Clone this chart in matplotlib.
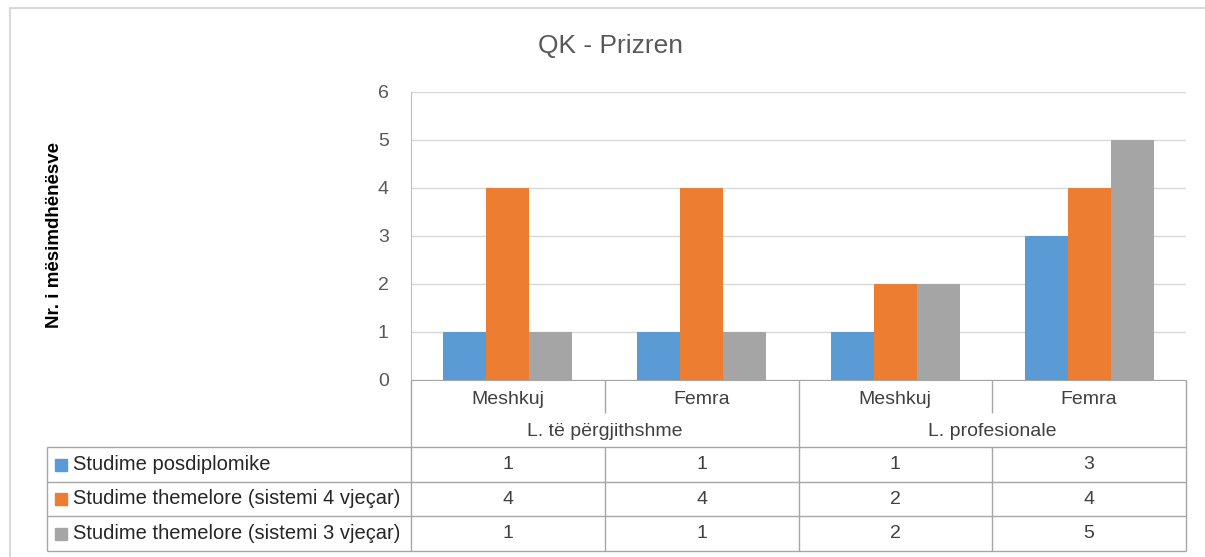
import matplotlib as mpl
mpl.use('Agg')
import matplotlib.pyplot as plt
from matplotlib.patches import Rectangle

plt.rcParams['font.family'] = ['Liberation Sans', 'DejaVu Sans']

# ---- data ----
title = "QK - Prizren"
ylabel = "Nr. i mësimdhënësve"
genders = ["Meshkuj", "Femra", "Meshkuj", "Femra"]
groups = ["L. të përgjithshme", "L. profesionale"]
series_names = [
    "Studime posdiplomike",
    "Studime themelore (sistemi 4 vjeçar)",
    "Studime themelore (sistemi 3 vjeçar)",
]
posdiplomike = [1, 1, 1, 3]
themelore_4 = [4, 4, 2, 4]
themelore_3 = [1, 1, 2, 5]
colors = ["#5B9BD5", "#ED7D31", "#A5A5A5"]

W, H = 1205, 557
fig = plt.figure(figsize=(W / 100, H / 100), dpi=100)

# outer chart border
fig.patches.append(Rectangle((10 / W, -0.1), 1.2, 1 - 8 / H + 0.1,
                             transform=fig.transFigure, fill=False,
                             edgecolor="#D9D9D9", lw=1.5))

# ---- bar plot ----
ax = fig.add_axes([411 / W, (H - 380) / H, 775 / W, 288 / H])
x = list(range(len(genders)))
bw = 0.222
all_series = [posdiplomike, themelore_4, themelore_3]
for i, vals in enumerate(all_series):
    ax.bar([xi + (i - 1) * bw for xi in x], vals, width=bw, color=colors[i],
           label=series_names[i], zorder=3)

ax.set_xlim(-0.5, 3.5)
ax.set_ylim(0, 6)
ax.set_yticks(range(0, 7))
ax.set_xticks([])
ax.tick_params(axis='y', length=0, pad=16, labelsize=14, labelcolor="#595959")
ax.grid(axis='y', color="#D9D9D9", lw=1, zorder=0)
for s in ["top", "right"]:
    ax.spines[s].set_visible(False)
ax.spines["left"].set_color("#BFBFBF")
ax.spines["bottom"].set_color("#A6A6A6")

fig.text(610 / W, 1 - 46 / H, title, ha="center", va="center",
         fontsize=19, color="#595959")
fig.text(55 / W, 1 - 235 / H, ylabel, ha="center", va="center",
         rotation=90, fontsize=13.5, fontweight="bold", color="black")

# ---- data table ----
col_w = 193.75
x_left = -0.5 - (411 - 47) / col_w
tab = fig.add_axes([47 / W, (H - 551) / H, (1186 - 47) / W, 171 / H])
tab.set_xlim(x_left, 3.5)
tab.set_ylim(171, 0)
tab.axis("off")

lc = "#A6A6A6"
kw = dict(color=lc, lw=1, clip_on=False)
# verticals
tab.vlines([-0.5, 1.5, 3.5], 0, 171, **kw)
tab.vlines([0.5, 2.5], 0, 33, **kw)
tab.vlines([0.5, 2.5], 67, 171, **kw)
tab.vlines([x_left], 67, 171, **kw)
# horizontals
tab.hlines([67, 102, 136, 171], x_left, 3.5, **kw)

txt = "#404040"
fs = 14
for xi, g in zip(x, genders):
    tab.text(xi, 19, g, ha="center", va="center", fontsize=fs, color=txt)
for gi, g in enumerate(groups):
    tab.text(0.5 + 2 * gi, 51, g, ha="center", va="center", fontsize=fs, color=txt)

row_y = [84.5, 119, 153.5]
mk_x = x_left + (61 - 47) / col_w
tx_x = x_left + (73 - 47) / col_w
for i, vals in enumerate(all_series):
    tab.plot([mk_x], [row_y[i]], marker="s", ms=8, color=colors[i],
             ls="none", clip_on=False)
    tab.text(tx_x, row_y[i], series_names[i], ha="left", va="center",
             fontsize=14.5, color="#262626")
    for xi, v in zip(x, vals):
        tab.text(xi, row_y[i], str(v), ha="center", va="center",
                 fontsize=fs, color=txt)

fig.savefig("out.png", dpi=100)
